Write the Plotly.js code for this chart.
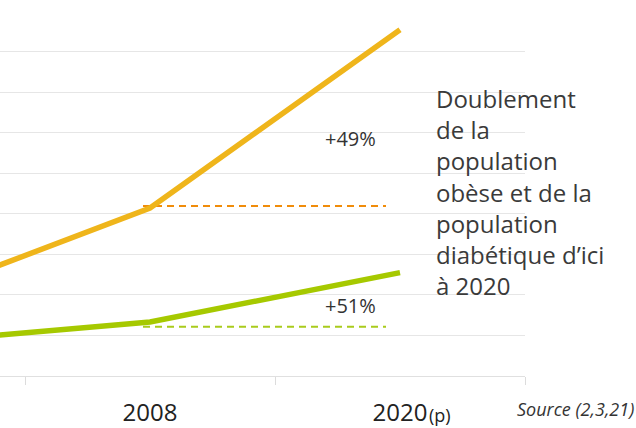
<!DOCTYPE html>
<html>
<head>
<meta charset="utf-8">
<script src="https://cdn.plot.ly/plotly-3.0.1.min.js"></script>
<style>html,body{margin:0;padding:0;background:#fff;}#chart{width:636px;height:428px;}</style>
</head>
<body>
<div id="chart"></div>
<script>
// category positions: 0 = earlier year (off-chart), 1 = 2008, 2 = 2020 (p)
const xPos = [0, 1, 2];
const tickLabels = ["2008", "2020"];
const tickPos = [1, 2];
const obese = [9.0, 20.7, 42.7];
const diabetic = [4.0, 6.66, 12.75];
const refX = [0.972, 1.944];
const obeseRef = [20.96, 20.96];
const diabeticRef = [6.08, 6.08];
const pctLabels = ["+49%", "+51%"];

const font = "'Open Sans', 'Noto Sans', sans-serif";

const traces = [
  {x: refX, y: obeseRef, mode: "lines", line: {color: "#F08C0A", width: 2, dash: "7px,5px"}, hoverinfo: "skip"},
  {x: refX, y: diabeticRef, mode: "lines", line: {color: "#A9CB1C", width: 2, dash: "7px,5px"}, hoverinfo: "skip"},
  {x: xPos, y: obese, mode: "lines", line: {color: "#EFB51B", width: 5.5}},
  {x: xPos, y: diabetic, mode: "lines", line: {color: "#A6C900", width: 5.5}}
];

const layout = {
  width: 636, height: 428,
  margin: {l: 0, r: 111, t: 11, b: 52},
  paper_bgcolor: "#fff", plot_bgcolor: "#fff",
  showlegend: false,
  font: {family: font, color: "#333"},
  xaxis: {
    range: [0.4, 2.5], showgrid: false, zeroline: false,
    showline: false,
    tickvals: tickPos, ticktext: tickLabels, ticks: "",
    tickfont: {size: 24, color: "#222", family: font},
    ticklabelstandoff: 20,
    minor: {tickvals: [0.5, 1.5, 2.5], ticks: "outside", ticklen: 8, tickcolor: "#dcdcdc", tickwidth: 1, showgrid: false}
  },
  yaxis: {
    range: [0, 45], dtick: 5, showgrid: true, gridcolor: "#e6e6e6", gridwidth: 1,
    zeroline: true, zerolinecolor: "#e0e0e0", zerolinewidth: 1,
    showticklabels: false, ticks: "", showline: false
  },
  annotations: [
    {x: 2, y: 0, xref: "x", yref: "paper", xanchor: "left", yanchor: "middle", xshift: 27, yshift: -39,
     text: "(p)", showarrow: false, font: {size: 18, color: "#222", family: font}},
    {x: 1.8, y: 29.3, xref: "x", yref: "y", text: pctLabels[0], showarrow: false,
     font: {size: 20, color: "#333", family: font}},
    {x: 1.8, y: 8.7, xref: "x", yref: "y", text: pctLabels[1], showarrow: false,
     font: {size: 20, color: "#333", family: font}},
    {x: 2.134, y: 22.68, xref: "x", yref: "y", xanchor: "left", yanchor: "middle", align: "left",
     text: "Doublement<br>de la<br>population<br>obèse et de la<br>population<br>diabétique d’ici<br>à 2020",
     showarrow: false, font: {size: 24, color: "#3a3a3a", family: font}},
    {x: 1.212, y: -0.0904, xref: "paper", yref: "paper", xanchor: "right", yanchor: "middle",
     text: "<i>Source (2,3,21)</i>", showarrow: false, font: {size: 18, color: "#333", family: font}}
  ]
};

Plotly.newPlot("chart", traces, layout, {displayModeBar: false, staticPlot: true});
</script>
</body>
</html>
